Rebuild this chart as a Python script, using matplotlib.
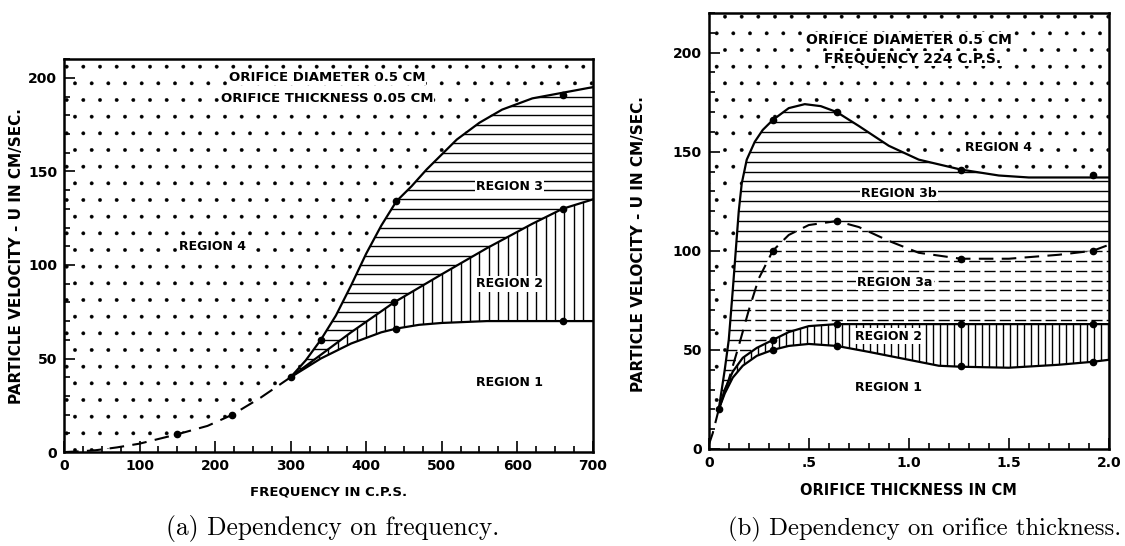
import numpy as np
import matplotlib.pyplot as plt
from matplotlib.ticker import MultipleLocator, FixedLocator

# (a) dependency on frequency
freq_dash = [0, 25, 42, 70, 100, 150, 190, 223, 260, 300]
vel_dash = [0, 0.5, 1, 2.5, 4.5, 9.5, 14, 20, 29, 40]
freq_r3 = [300, 320, 340, 360, 380, 400, 420, 440, 460, 480, 500, 520, 550, 580, 620, 660, 700]
vel_r3 = [40, 49, 60, 73, 89, 106, 121, 134, 142, 151, 159, 167, 176, 183, 189, 192, 195]
freq_r2 = [300, 340, 380, 437, 500, 560, 620, 660, 700]
vel_r2 = [40, 52, 64, 80, 95, 109, 122, 130, 135]
freq_r1 = [300, 320, 340, 360, 380, 400, 420, 440, 470, 500, 560, 620, 660, 700]
vel_r1 = [40, 45, 50, 54, 58, 61, 64, 66, 68, 69, 70, 70, 70, 70]
freq_pts = [150, 223, 300, 340, 440, 437, 440, 660, 660, 660]
vel_pts = [9.5, 20, 40, 60, 134, 80, 66, 191, 130, 70]

# (b) dependency on orifice thickness
th_dash0 = [0.0, 0.02, 0.05]
velb_dash0 = [2, 8, 20]
th_top = [0.05, 0.08, 0.1, 0.12, 0.135, 0.15, 0.165, 0.19, 0.23, 0.27, 0.32, 0.4, 0.48,
          0.56, 0.64, 0.75, 0.9, 1.05, 1.26, 1.45, 1.6, 1.92, 2.0]
velb_top = [20, 40, 55, 80, 100, 120, 134, 146, 155, 161, 166, 172, 174,
            173, 170, 163, 153, 146, 141, 138, 137, 137, 137]
th_mid = [0.05, 0.1, 0.15, 0.2, 0.25, 0.32, 0.4, 0.5, 0.64, 0.75, 0.9, 1.05,
          1.26, 1.5, 1.75, 1.92, 2.0]
velb_mid = [20, 35, 52, 70, 86, 100, 108, 113, 115, 112, 105, 99,
            96, 96, 98, 100, 103]
th_r2 = [0.05, 0.08, 0.12, 0.17, 0.24, 0.32, 0.4, 0.5, 0.64, 1.0, 1.26, 1.92, 2.0]
velb_r2 = [20, 30, 39, 46, 51, 55, 59, 62, 63, 63, 63, 63, 63]
th_r1 = [0.05, 0.08, 0.12, 0.17, 0.24, 0.32, 0.4, 0.5, 0.64, 0.8, 1.0, 1.15,
         1.26, 1.5, 1.75, 1.92, 2.0]
velb_r1 = [20, 28, 36, 42, 47, 50, 52, 53, 52, 49, 45, 42,
           41.5, 41, 42.5, 44, 45]
th_pts = [0.05, 0.32, 0.64, 1.26, 1.92, 0.32, 0.64, 1.26, 1.92,
          0.32, 0.64, 1.26, 1.92, 0.32, 0.64, 1.26, 1.92]
velb_pts = [20, 166, 170, 141, 138, 100, 115, 96, 100,
            55, 63, 63, 63, 50, 52, 42, 44]

plt.rcParams['font.family'] = 'DejaVu Sans'
plt.rcParams['font.weight'] = 'bold'
plt.rcParams['hatch.linewidth'] = 0.3

DASH = (0, (7, 4))


def region(ax, xt, yt, xb, yb, **kw):
    xs = np.concatenate([np.asarray(xt, float), np.asarray(xb, float)[::-1]])
    ys = np.concatenate([np.asarray(yt, float), np.asarray(yb, float)[::-1]])
    return ax.fill(xs, ys, **kw)[0]


def hatch_lines(ax, patch, kind, step, **kw):
    x0, x1 = ax.get_xlim()
    y0, y1 = ax.get_ylim()
    if kind == 'h':
        lc = ax.hlines(np.arange(y0 + step, y1, step), x0, x1, colors='black', **kw)
    else:
        lc = ax.vlines(np.arange(x0 + step, x1, step), y0, y1, colors='black', **kw)
    lc.set_clip_path(patch)


def style_axes(ax):
    for s in ax.spines.values():
        s.set_linewidth(1.8)
    ax.tick_params(which='both', direction='in', top=False, right=False, width=1.2)
    ax.tick_params(which='major', length=8, labelsize=10, pad=5)
    ax.tick_params(which='minor', length=4)


fig = plt.figure(figsize=(11.25, 5.46), dpi=100)
ax1 = fig.add_axes([0.0569, 0.172, 0.470, 0.7198])
ax2 = fig.add_axes([0.630, 0.1777, 0.3556, 0.7985])

# ---- panel (a)
ax1.set_xlim(0, 700)
ax1.set_ylim(0, 210)
fx = freq_dash + freq_r3[1:]
fy = vel_dash + vel_r3[1:]
region(ax1, fx, fy, fx, [210] * len(fx), facecolor='none', edgecolor='black',
       linewidth=0, hatch='.')
p3 = region(ax1, freq_r3, vel_r3, freq_r2, vel_r2, facecolor='none', edgecolor='none')
hatch_lines(ax1, p3, 'h', 5, linewidth=1.0)
p2 = region(ax1, freq_r2, vel_r2, freq_r1, vel_r1, facecolor='none', edgecolor='none')
hatch_lines(ax1, p2, 'v', 12.5, linewidth=1.0)

ax1.plot(freq_dash, vel_dash, color='black', lw=1.5, linestyle=DASH)
ax1.plot(freq_r3, vel_r3, color='black', lw=1.6)
ax1.plot(freq_r2, vel_r2, color='black', lw=1.6)
ax1.plot(freq_r1, vel_r1, color='black', lw=1.6)
ax1.plot(freq_pts, vel_pts, 'o', color='black', markersize=4.5)

box = dict(facecolor='white', edgecolor='none', pad=1)
box2 = dict(facecolor='white', edgecolor='none', pad=0.5)
ax1.text(348, 200, 'ORIFICE DIAMETER 0.5 CM', ha='center', va='center', fontsize=9.5, bbox=box2)
ax1.text(348, 189, 'ORIFICE THICKNESS 0.05 CM', ha='center', va='center', fontsize=9.5, bbox=box2)
ax1.text(197, 110, 'REGION 4', ha='center', va='center', fontsize=9, bbox=box)
ax1.text(590, 142, 'REGION 3', ha='center', va='center', fontsize=9, bbox=box)
ax1.text(590, 90, 'REGION 2', ha='center', va='center', fontsize=9, bbox=box)
ax1.text(590, 37, 'REGION 1', ha='center', va='center', fontsize=9)

ax1.xaxis.set_major_locator(MultipleLocator(100))
ax1.xaxis.set_minor_locator(MultipleLocator(25))
ax1.yaxis.set_major_locator(MultipleLocator(50))
ax1.yaxis.set_minor_locator(MultipleLocator(10))
style_axes(ax1)
ax1.set_xlabel('FREQUENCY IN C.P.S.', fontsize=9.5, fontweight='bold')
ax1.xaxis.set_label_coords(0.5, -0.085)
ax1.set_ylabel('PARTICLE VELOCITY - U IN CM/SEC.', fontsize=11, fontweight='bold')
ax1.yaxis.set_label_coords(-0.075, 0.5)

# ---- panel (b)
ax2.set_xlim(0, 2.0)
ax2.set_ylim(0, 220)
bx = th_dash0 + th_top[1:]
by = velb_dash0 + velb_top[1:]
region(ax2, bx, by, bx, [220] * len(bx), facecolor='none', edgecolor='black',
       linewidth=0, hatch='.')
q3b = region(ax2, th_top, velb_top, th_mid, velb_mid, facecolor='none', edgecolor='none')
hatch_lines(ax2, q3b, 'h', 5, linewidth=1.0)
q3a = region(ax2, th_mid, velb_mid, th_r2, velb_r2, facecolor='none', edgecolor='none')
hatch_lines(ax2, q3a, 'h', 5, linewidth=1.0, linestyles=(0, (8, 3)))
q2 = region(ax2, th_r2, velb_r2, th_r1, velb_r1, facecolor='none', edgecolor='none')
hatch_lines(ax2, q2, 'v', 0.035, linewidth=1.0)

ax2.plot(th_dash0, velb_dash0, color='black', lw=1.5, linestyle=DASH)
ax2.plot(th_top, velb_top, color='black', lw=1.6)
ax2.plot(th_mid, velb_mid, color='black', lw=1.5, linestyle=DASH)
ax2.plot(th_r2, velb_r2, color='black', lw=1.6)
ax2.plot(th_r1, velb_r1, color='black', lw=1.6)
ax2.plot(th_pts, velb_pts, 'o', color='black', markersize=4.5)

ax2.text(1.0, 206.5, 'ORIFICE DIAMETER 0.5 CM', ha='center', va='center', fontsize=10, bbox=box2)
ax2.text(1.02, 197, 'FREQUENCY 224 C.P.S.', ha='center', va='center', fontsize=10, bbox=box2)
ax2.text(1.45, 152, 'REGION 4', ha='center', va='center', fontsize=9, bbox=box)
ax2.text(0.95, 129, 'REGION 3b', ha='center', va='center', fontsize=9, bbox=box)
ax2.text(0.93, 84, 'REGION 3a', ha='center', va='center', fontsize=9, bbox=box)
ax2.text(0.9, 57, 'REGION 2', ha='center', va='center', fontsize=9, bbox=box)
ax2.text(0.9, 31, 'REGION 1', ha='center', va='center', fontsize=9)

ax2.xaxis.set_major_locator(FixedLocator([0, 0.5, 1.0, 1.5, 2.0]))
ax2.set_xticklabels(['0', '.5', '1.0', '1.5', '2.0'])
ax2.xaxis.set_minor_locator(MultipleLocator(0.1))
ax2.yaxis.set_major_locator(MultipleLocator(50))
ax2.yaxis.set_minor_locator(MultipleLocator(10))
style_axes(ax2)
ax2.set_xlabel('ORIFICE THICKNESS IN CM', fontsize=10.5, fontweight='bold')
ax2.xaxis.set_label_coords(0.5, -0.078)
ax2.set_ylabel('PARTICLE VELOCITY - U IN CM/SEC.', fontsize=11, fontweight='bold')
ax2.yaxis.set_label_coords(-0.157, 0.47)

fig.text(0.296, 1 - 529 / 546, '(a) Dependency on frequency.', ha='center', va='center',
         fontsize=18.3, family='cmr10', fontweight='normal')
fig.text(0.822, 1 - 529 / 546, '(b) Dependency on orifice thickness.', ha='center',
         va='center', fontsize=17.8, family='cmr10', fontweight='normal')

fig.savefig('out.png', dpi=100)
